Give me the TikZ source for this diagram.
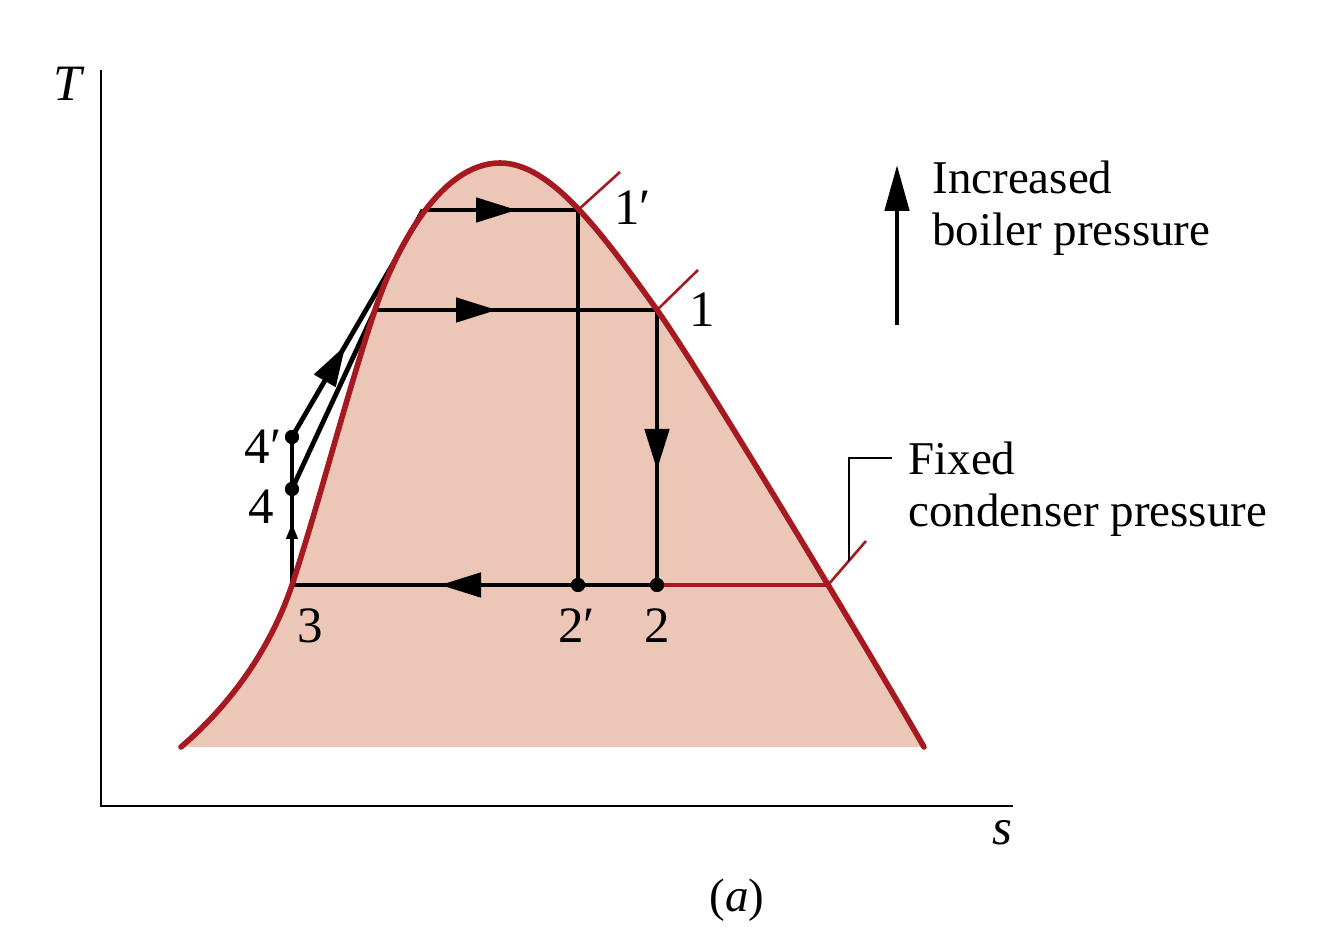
\documentclass[tikz,border=0pt]{standalone}
\usepackage{fontspec}
\setmainfont{Liberation Serif}
\usetikzlibrary{arrows.meta,decorations.markings}
\definecolor{domefill}{RGB}{236,198,183}
\definecolor{domered}{RGB}{166,25,32}
\begin{document}
\begin{tikzpicture}[x=0.5pt,y=-0.5pt,
  lbl/.style={font=\fontsize{23.5}{26}\selectfont, inner sep=0pt},
  num/.style={font=\fontsize{25.5}{28}\selectfont, inner sep=0pt},
  proc/.style={line width=2.4pt, black},
  dot/.style={circle, fill=black, inner sep=0pt, minimum size=7pt},
  midarrow/.style={postaction={decorate}, decoration={markings,
      mark=at position #1 with {\arrow{Triangle[length=20.5pt,width=12pt]}}}},
  smallarrow/.style={postaction={decorate}, decoration={markings,
      mark=at position #1 with {\arrow{Triangle[length=8pt,width=5.5pt]}}}},
  redtick/.style={domered, line width=1.3pt},
  axis/.style={line width=1.4pt, black}
]
\useasboundingbox (0,0) rectangle (1334,945);

% coordinates
\coordinate (o) at (101,806);
\coordinate (ytop) at (101,70);
\coordinate (xend) at (1013,806);
\coordinate (p3) at (292,585);
\coordinate (sL) at (375,310);
\coordinate (s1) at (657,310);
\coordinate (hL) at (423,210);
\coordinate (s1p) at (578,210);
\coordinate (cond) at (828,585);
\coordinate (m1) at (394,262);
\coordinate (m2) at (405,242);
\coordinate (m3) at (416,223);
\coordinate (t1p) at (620,172);
\coordinate (t1) at (698,270);
\coordinate (tc) at (866,541);
\coordinate (ld1) at (849,561);
\coordinate (ld2) at (849,458);
\coordinate (ld3) at (892,458);
\coordinate (bA) at (897,325);
\coordinate (bB) at (897,165);

% dome fill
\fill[domefill] (181,747) .. controls (230,705) and (270,650) .. (292,585)
  .. controls (320,500) and (345,400) .. (375,310)
  .. controls (395,250) and (440,163) .. (500,163)
  .. controls (550,163) and (600,230) .. (657,310)
  .. controls (700,370) and (880,670) .. (924,747) -- cycle;

% dot nodes
\node[dot] (p4) at (292,489) {};
\node[dot] (p4p) at (292,437) {};
\node[dot] (p2) at (657,585) {};
\node[dot] (p2p) at (578,585) {};

% axes
\draw[axis] (ytop) -- (o) -- (xend);

% process lines
\draw[proc, smallarrow=31pt] (p3) -- (p4.center);
\draw[proc] (p4.center) -- (p4p.center);
\draw[proc] (p4.center) -- (sL);
\draw[proc, midarrow=53pt] (p4p.center) -- (m1) -- (m2) -- (m3) -- (hL);
\draw[proc, midarrow=61pt] (sL) -- (s1);
\draw[proc, midarrow=47pt] (hL) -- (s1p);
\draw[proc, midarrow=80pt] (s1) -- (p2.center);
\draw[proc] (s1p) -- (p2p.center);
\draw[proc, midarrow=108.5pt] (p2.center) -- (p3);

% red condenser line and ticks
\draw[domered, line width=1.6pt] (p2.center) -- (cond);
\draw[redtick] (s1p) -- (t1p);
\draw[redtick] (s1) -- (t1);
\draw[redtick] (cond) -- (tc);

% dome outline
\draw[domered, line width=2.8pt, line cap=round] (181,747) .. controls (230,705) and (270,650) .. (292,585)
  .. controls (320,500) and (345,400) .. (375,310)
  .. controls (395,250) and (440,163) .. (500,163)
  .. controls (550,163) and (600,230) .. (657,310)
  .. controls (700,370) and (880,670) .. (924,747);

% redraw dots on top
\node[dot] at (p4) {};
\node[dot] at (p4p) {};
\node[dot] at (p2) {};
\node[dot] at (p2p) {};

% leader
\draw[line width=0.85pt] (ld1) -- (ld2) -- (ld3);

% boiler arrow
\draw[line width=2.4pt, -{Triangle[length=23pt,width=12pt]}] (bA) -- (bB);

% labels
\node[num, anchor=base] (lT) at (69,101) {\textit{T}};
\node[num, anchor=base] (ls) at (1002,845) {\textit{s}};
\node[lbl, anchor=base] (la) at (737,912) {(\textit{a})};
\node[num, anchor=base west] (l1p) at (614,225) {1′};
\node[num, anchor=base] (l1) at (702,327) {1};
\node[num, anchor=base east] (l4p) at (282,464) {4′};
\node[num, anchor=base] (l4) at (261,524) {4};
\node[num, anchor=base] (l3) at (310,643) {3};
\node[num, anchor=base west] (l2p) at (558,643) {2′};
\node[num, anchor=base] (l2) at (657,643) {2};
\node[lbl, anchor=base west] (lInc) at (932,194) {Increased};
\node[lbl, anchor=base west] (lBoil) at (932,246) {boiler pressure};
\node[lbl, anchor=base west] (lFix) at (908,475) {Fixed};
\node[lbl, anchor=base west] (lCond) at (908,527) {condenser pressure};
\end{tikzpicture}
\end{document}
